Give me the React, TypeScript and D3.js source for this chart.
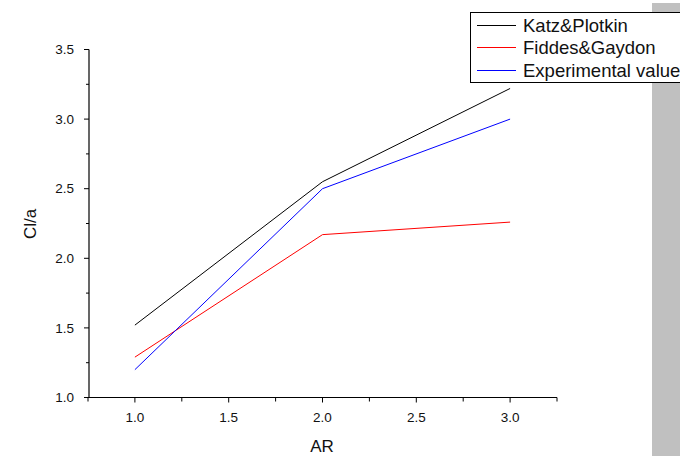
import React, { useRef, useEffect } from 'react';
import * as d3 from 'd3';

// chart data
const arValues = [1.0, 2.0, 3.0];
const katzPlotkin = [1.52, 2.55, 3.22];
const fiddesGaydon = [1.29, 2.17, 2.26];
const experimental = [1.2, 2.5, 3.0];

const seriesNames = ['Katz&Plotkin', 'Fiddes&Gaydon', 'Experimental value'];
const seriesColors = ['#000000', '#ff0000', '#0000ff'];

const xMajorTicks = [1.0, 1.5, 2.0, 2.5, 3.0];
const xMinorTicks = [0.75, 1.25, 1.75, 2.25, 2.75, 3.25];
const yMajorTicks = [1.0, 1.5, 2.0, 2.5, 3.0, 3.5];
const yMinorTicks = [1.25, 1.75, 2.25, 2.75, 3.25];

function App() {
  const svgRef = useRef<SVGSVGElement>(null);

  useEffect(() => {
    d3.select(svgRef.current).selectAll('*').remove();

    const width = 680;
    const height = 458;
    const font = '"Liberation Sans", Arial, sans-serif';

    const svg = d3.select(svgRef.current)
      .attr('width', width)
      .attr('height', height)
      .style('font-family', font);

    svg.append('rect')
      .attr('width', width)
      .attr('height', height)
      .attr('fill', '#ffffff');

    // grey strip on the right
    svg.append('rect')
      .attr('x', 652)
      .attr('y', 3)
      .attr('width', 28)
      .attr('height', 453)
      .attr('fill', '#c0c0c0');

    const x = d3.scaleLinear().domain([0.75, 3.25]).range([88, 557]);
    const y = d3.scaleLinear().domain([1.0, 3.5]).range([397.5, 49.5]);

    const series = [katzPlotkin, fiddesGaydon, experimental];

    const line = d3.line<number>()
      .x((_, i) => x(arValues[i]))
      .y(d => y(d));

    series.forEach((s, i) => {
      svg.append('path')
        .datum(s)
        .attr('d', line)
        .attr('fill', 'none')
        .attr('stroke', seriesColors[i])
        .attr('stroke-width', 1);
    });

    // axes
    const xAxis = svg.append('g').attr('transform', `translate(0, ${y(1.0)})`);
    xAxis.append('line')
      .attr('x1', x(0.75)).attr('x2', x(3.25))
      .attr('stroke', '#000').attr('stroke-width', 1.2);
    xAxis.selectAll('.xmaj').data(xMajorTicks).enter().append('line')
      .attr('x1', d => x(d)).attr('x2', d => x(d))
      .attr('y1', 0).attr('y2', 5)
      .attr('stroke', '#000');
    xAxis.selectAll('.xmin').data(xMinorTicks).enter().append('line')
      .attr('x1', d => x(d)).attr('x2', d => x(d))
      .attr('y1', 0).attr('y2', 4)
      .attr('stroke', '#000');
    xAxis.selectAll('.xlab').data(xMajorTicks).enter().append('text')
      .attr('x', d => x(d))
      .attr('y', 24)
      .attr('text-anchor', 'middle')
      .attr('font-size', 13.5)
      .attr('fill', '#111')
      .text(d => d3.format('.1f')(d));

    const yAxis = svg.append('g').attr('transform', `translate(${x(0.75) + 1}, 0)`);
    yAxis.append('line')
      .attr('y1', y(1.0)).attr('y2', y(3.5))
      .attr('stroke', '#000').attr('stroke-width', 1.2);
    yAxis.selectAll('.ymaj').data(yMajorTicks).enter().append('line')
      .attr('y1', d => y(d)).attr('y2', d => y(d))
      .attr('x1', 0).attr('x2', -5)
      .attr('stroke', '#000');
    yAxis.selectAll('.ymin').data(yMinorTicks).enter().append('line')
      .attr('y1', d => y(d)).attr('y2', d => y(d))
      .attr('x1', 0).attr('x2', -3)
      .attr('stroke', '#000');
    yAxis.selectAll('.ylab').data(yMajorTicks).enter().append('text')
      .attr('x', -15)
      .attr('y', d => y(d))
      .attr('dy', '0.35em')
      .attr('text-anchor', 'end')
      .attr('font-size', 13.5)
      .attr('fill', '#111')
      .text(d => d3.format('.1f')(d));

    // axis titles
    svg.append('text')
      .attr('x', 322)
      .attr('y', 452)
      .attr('text-anchor', 'middle')
      .attr('font-size', 17)
      .attr('fill', '#111')
      .text('AR');
    svg.append('text')
      .attr('transform', 'translate(36, 224) rotate(-90)')
      .attr('text-anchor', 'middle')
      .attr('font-size', 17)
      .attr('fill', '#111')
      .text('Cl/a');

    // legend
    const legend = svg.append('g');
    legend.append('rect')
      .attr('x', 470.5)
      .attr('y', 12.5)
      .attr('width', 240)
      .attr('height', 70)
      .attr('fill', '#ffffff')
      .attr('stroke', '#000')
      .attr('stroke-width', 1);
    const rowY = [25.5, 47.5, 70.5];
    seriesNames.forEach((name, i) => {
      const cy = rowY[i];
      legend.append('line')
        .attr('x1', 477).attr('x2', 516)
        .attr('y1', cy).attr('y2', cy)
        .attr('stroke', seriesColors[i])
        .attr('stroke-width', 1);
      legend.append('text')
        .attr('x', 523)
        .attr('y', cy)
        .attr('dy', '0.36em')
        .attr('font-size', 18.5)
        .attr('fill', '#111')
        .text(name);
    });
  }, []);

  return (
    <svg ref={svgRef} style={{ position: 'fixed', left: 0, top: 0, display: 'block' }}></svg>
  );
}

export default App;
